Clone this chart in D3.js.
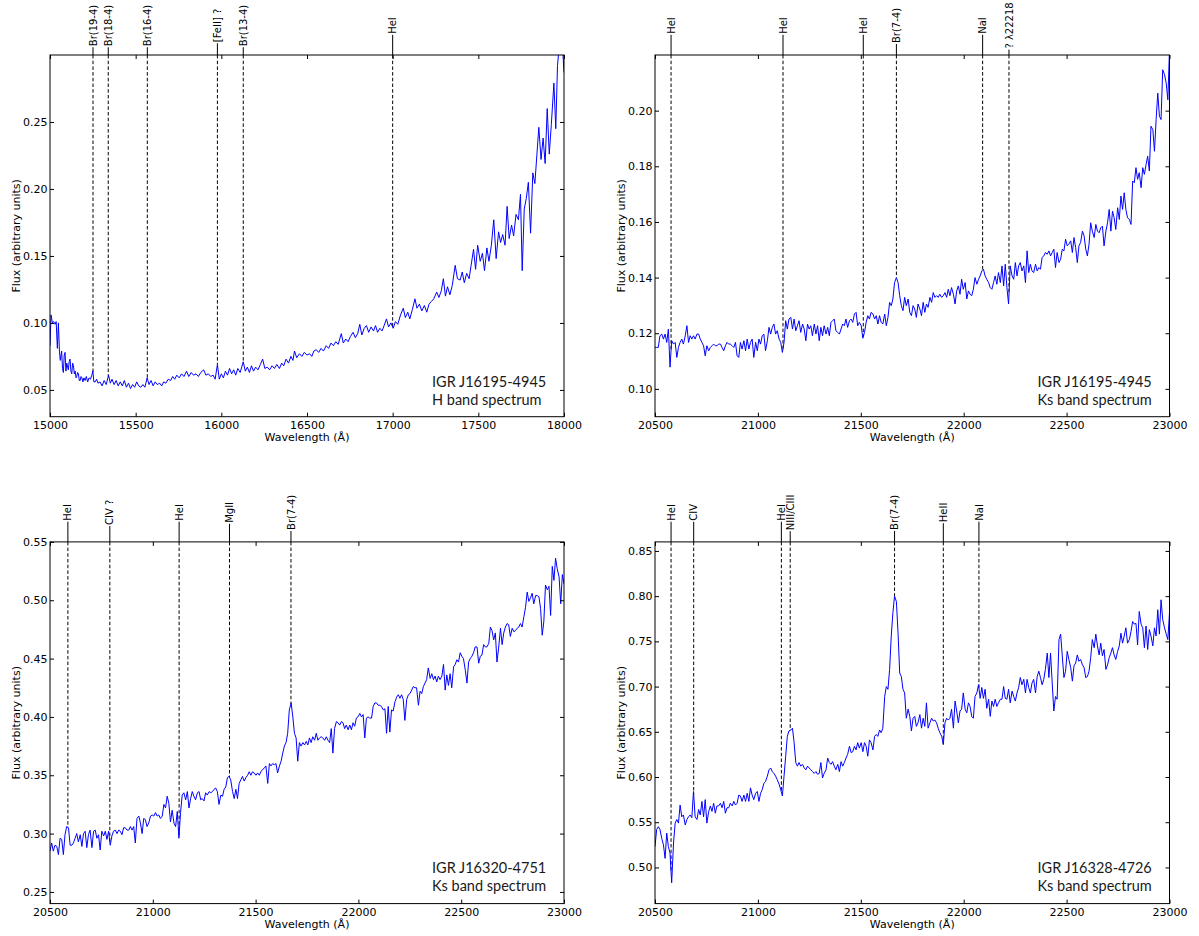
<!DOCTYPE html>
<html><head><meta charset="utf-8">
<script src="https://cdn.jsdelivr.net/npm/d3@7"></script>
<style>
body{margin:0;background:#fff;}
svg{display:block;}
</style></head><body>
<svg id="c" width="1199" height="936"></svg>
<script>
// ---------- DATA ----------
// H band spectrum of IGR J16195-4945: [wavelength (Å), flux]
const hBandJ16195 = [
[15000,0.083],[15006,0.106],[15014,0.100],[15022,0.101],[15030,0.099],[15036,0.101],[15043,0.081],[15049,0.100],[15055,0.079],[15060,0.072],
[15068,0.079],[15073,0.066],[15078,0.063],[15083,0.076],[15088,0.078],[15093,0.064],[15098,0.070],[15103,0.067],[15107,0.065],[15112,0.071],
[15117,0.073],[15122,0.064],[15127,0.062],[15132,0.070],[15137,0.068],[15142,0.062],[15147,0.064],[15152,0.059],[15156,0.060],[15161,0.063],
[15166,0.062],[15171,0.057],[15176,0.057],[15181,0.060],[15186,0.059],[15192,0.056],[15198,0.059],[15205,0.057],[15212,0.060],[15220,0.056],
[15228,0.059],[15236,0.058],[15244,0.061],[15250,0.064],[15256,0.056],[15264,0.056],[15272,0.058],[15280,0.055],[15292,0.056],[15304,0.053],
[15316,0.057],[15328,0.054],[15342,0.061],[15352,0.055],[15362,0.058],[15374,0.054],[15386,0.057],[15398,0.053],[15410,0.056],[15422,0.053],
[15434,0.057],[15446,0.052],[15458,0.055],[15470,0.051],[15482,0.054],[15494,0.052],[15506,0.056],[15518,0.053],[15530,0.052],[15542,0.054],
[15554,0.052],[15567,0.059],[15578,0.054],[15590,0.057],[15602,0.053],[15614,0.056],[15626,0.054],[15640,0.055],[15652,0.053],[15664,0.056],
[15676,0.055],[15690,0.058],[15704,0.057],[15716,0.060],[15728,0.058],[15740,0.061],[15754,0.059],[15768,0.062],[15782,0.060],[15797,0.064],
[15810,0.060],[15824,0.063],[15838,0.061],[15852,0.062],[15866,0.060],[15880,0.063],[15897,0.065],[15910,0.061],[15924,0.062],[15938,0.060],
[15952,0.061],[15964,0.058],[15977,0.069],[15988,0.058],[16000,0.062],[16012,0.059],[16024,0.064],[16036,0.061],[16048,0.066],[16060,0.062],
[16072,0.065],[16084,0.061],[16096,0.066],[16110,0.063],[16128,0.071],[16140,0.064],[16152,0.067],[16164,0.063],[16176,0.068],[16188,0.064],
[16200,0.067],[16214,0.065],[16228,0.069],[16241,0.073],[16254,0.066],[16268,0.067],[16282,0.065],[16296,0.068],[16310,0.066],[16324,0.069],
[16339,0.066],[16352,0.070],[16364,0.068],[16378,0.073],[16392,0.070],[16406,0.075],[16418,0.072],[16427,0.079],[16440,0.074],[16456,0.077],
[16470,0.075],[16484,0.078],[16500,0.076],[16515,0.077],[16528,0.075],[16540,0.079],[16554,0.080],[16568,0.078],[16582,0.081],[16596,0.079],
[16612,0.083],[16626,0.081],[16640,0.085],[16654,0.083],[16668,0.086],[16682,0.084],[16700,0.092],[16712,0.085],[16726,0.088],[16740,0.086],
[16754,0.090],[16769,0.093],[16782,0.089],[16796,0.092],[16808,0.099],[16820,0.091],[16834,0.096],[16847,0.098],[16860,0.093],[16874,0.097],
[16888,0.094],[16900,0.098],[16912,0.093],[16925,0.096],[16938,0.094],[16950,0.098],[16964,0.103],[16976,0.097],[16990,0.100],[17003,0.096],
[17016,0.101],[17030,0.099],[17046,0.106],[17062,0.111],[17074,0.104],[17088,0.108],[17100,0.103],[17115,0.110],[17130,0.118],[17142,0.111],
[17156,0.114],[17170,0.109],[17185,0.113],[17199,0.108],[17212,0.114],[17226,0.116],[17240,0.118],[17257,0.123],[17270,0.119],[17284,0.124],
[17296,0.133],[17308,0.120],[17320,0.127],[17334,0.121],[17348,0.128],[17365,0.143],[17378,0.133],[17394,0.132],[17406,0.138],[17418,0.130],
[17432,0.137],[17446,0.133],[17458,0.143],[17472,0.155],[17484,0.140],[17496,0.158],[17511,0.146],[17524,0.152],[17536,0.139],[17550,0.156],
[17562,0.146],[17576,0.158],[17590,0.177],[17604,0.148],[17618,0.168],[17630,0.160],[17642,0.166],[17656,0.158],[17668,0.187],[17680,0.163],
[17694,0.173],[17706,0.165],[17720,0.181],[17734,0.177],[17746,0.196],[17756,0.139],[17768,0.185],[17780,0.193],[17792,0.205],[17805,0.167],
[17818,0.212],[17830,0.204],[17842,0.226],[17853,0.246],[17866,0.222],[17878,0.238],[17890,0.219],[17902,0.260],[17914,0.226],[17926,0.248],
[17941,0.279],[17952,0.245],[17962,0.292],[17971,0.305],[17984,0.320],[17992,0.305],[18000,0.287]
];

// Ks band wavelength grid (Å), shared by the three Ks spectra
const ksWave = [
20500,20508,20516,20524,20533,20541,20549,20557,20565,20573,
20581,20590,20598,20606,20614,20622,20630,20638,20647,20655,
20663,20671,20679,20687,20695,20704,20712,20720,20728,20736,
20744,20752,20761,20769,20777,20785,20793,20801,20809,20818,
20826,20834,20842,20850,20858,20866,20875,20883,20891,20899,
20907,20915,20923,20932,20940,20948,20956,20964,20972,20980,
20989,20997,21005,21013,21021,21029,21037,21046,21054,21062,
21070,21078,21086,21094,21103,21111,21119,21127,21135,21143,
21151,21160,21168,21176,21184,21192,21200,21208,21217,21225,
21233,21241,21249,21257,21265,21274,21282,21290,21298,21306,
21314,21322,21331,21339,21347,21355,21363,21371,21379,21388,
21396,21404,21412,21420,21428,21436,21445,21453,21461,21469,
21477,21485,21493,21502,21510,21518,21526,21534,21542,21550,
21559,21567,21575,21583,21591,21599,21607,21616,21624,21632,
21640,21648,21656,21664,21673,21681,21689,21697,21705,21713,
21721,21730,21738,21746,21754,21762,21770,21778,21787,21795,
21803,21811,21819,21827,21836,21844,21852,21860,21868,21876,
21884,21893,21901,21909,21917,21925,21933,21941,21950,21958,
21966,21974,21982,21990,21998,22007,22015,22023,22031,22039,
22047,22055,22064,22072,22080,22088,22096,22104,22112,22121,
22129,22137,22145,22153,22161,22169,22178,22186,22194,22202,
22210,22218,22226,22235,22243,22251,22259,22267,22275,22283,
22292,22300,22308,22316,22324,22332,22340,22349,22357,22365,
22373,22381,22389,22397,22406,22414,22422,22430,22438,22446,
22454,22463,22471,22479,22487,22495,22503,22511,22520,22528,
22536,22544,22552,22560,22568,22577,22585,22593,22601,22609,
22617,22625,22634,22642,22650,22658,22666,22674,22682,22691,
22699,22707,22715,22723,22731,22739,22748,22756,22764,22772,
22780,22788,22796,22805,22813,22821,22829,22837,22845,22853,
22862,22870,22878,22886,22894,22902,22910,22919,22927,22935,
22943,22951,22959,22967,22976,22984,22992,23000
];

const ksFluxJ16195 = [
0.1149,0.1149,0.1149,0.1191,0.1197,0.1179,0.1197,0.1167,0.1215,0.1078,
0.1173,0.1161,0.1167,0.1113,0.1149,0.1167,0.1179,0.1161,0.1191,0.1227,
0.1167,0.1191,0.1179,0.1191,0.1179,0.1197,0.1197,0.1179,0.1167,0.1155,
0.1119,0.1155,0.1137,0.1149,0.1155,0.1161,0.1155,0.1155,0.1161,0.1161,
0.1149,0.1137,0.1155,0.1167,0.1161,0.1161,0.1155,0.1149,0.1167,0.1119,
0.1113,0.1167,0.1143,0.1173,0.1137,0.1179,0.1143,0.1167,0.1179,0.1113,
0.1167,0.1137,0.1179,0.1161,0.1191,0.1197,0.1137,0.1173,0.1221,0.1197,
0.1221,0.1233,0.1197,0.1209,0.1179,0.1167,0.1131,0.1167,0.1245,0.1215,
0.1251,0.1257,0.1215,0.1251,0.1209,0.1227,0.1245,0.1203,0.1233,0.1215,
0.1173,0.1233,0.1215,0.1227,0.1191,0.1233,0.1197,0.1227,0.1173,0.1221,
0.1191,0.1227,0.1197,0.1221,0.1191,0.1239,0.1245,0.1251,0.1209,0.1203,
0.1197,0.1215,0.1233,0.1227,0.1251,0.1221,0.1245,0.1251,0.1239,0.1269,
0.1275,0.1227,0.1239,0.1227,0.1182,0.1203,0.1239,0.1263,0.1251,0.1275,
0.1269,0.1251,0.1263,0.1233,0.1263,0.1239,0.1233,0.1269,0.1227,0.1257,
0.1311,0.1299,0.1323,0.1382,0.1400,0.1382,0.1335,0.1299,0.1281,0.1329,
0.1299,0.1323,0.1275,0.1263,0.1299,0.1287,0.1257,0.1305,0.1287,0.1263,
0.1311,0.1275,0.1305,0.1293,0.1329,0.1311,0.1346,0.1329,0.1335,0.1329,
0.1340,0.1329,0.1335,0.1346,0.1329,0.1358,0.1335,0.1364,0.1340,0.1305,
0.1352,0.1370,0.1340,0.1394,0.1358,0.1382,0.1323,0.1352,0.1340,0.1335,
0.1358,0.1400,0.1376,0.1394,0.1406,0.1424,0.1430,0.1406,0.1394,0.1382,
0.1364,0.1358,0.1382,0.1406,0.1376,0.1418,0.1382,0.1442,0.1370,0.1448,
0.1364,0.1305,0.1442,0.1406,0.1394,0.1454,0.1406,0.1442,0.1454,0.1424,
0.1442,0.1382,0.1496,0.1418,0.1448,0.1424,0.1418,0.1448,0.1424,0.1436,
0.1430,0.1472,0.1478,0.1490,0.1484,0.1496,0.1478,0.1490,0.1502,0.1436,
0.1490,0.1454,0.1466,0.1502,0.1496,0.1538,0.1514,0.1520,0.1532,0.1490,
0.1544,0.1508,0.1454,0.1514,0.1526,0.1567,0.1550,0.1502,0.1478,0.1520,
0.1597,0.1567,0.1544,0.1591,0.1567,0.1561,0.1579,0.1585,0.1514,0.1567,
0.1597,0.1645,0.1567,0.1639,0.1615,0.1573,0.1651,0.1609,0.1693,0.1645,
0.1705,0.1645,0.1615,0.1609,0.1591,0.1747,0.1741,0.1795,0.1753,0.1777,
0.1723,0.1795,0.1771,0.1806,0.1836,0.1783,0.1944,0.1932,0.1854,0.1968,
0.2063,0.1980,0.1968,0.2147,0.2129,0.2099,0.2039,0.2220
];

const ksFluxJ16320 = [
0.285,0.292,0.285,0.290,0.289,0.282,0.296,0.295,0.282,0.299,
0.306,0.305,0.290,0.290,0.292,0.296,0.300,0.293,0.299,0.289,
0.300,0.302,0.288,0.299,0.303,0.288,0.302,0.303,0.296,0.299,
0.286,0.302,0.298,0.302,0.295,0.302,0.290,0.298,0.302,0.303,
0.300,0.303,0.302,0.299,0.305,0.305,0.303,0.303,0.306,0.303,
0.306,0.292,0.313,0.315,0.309,0.300,0.313,0.312,0.306,0.309,
0.315,0.316,0.315,0.318,0.315,0.316,0.313,0.315,0.325,0.322,
0.332,0.326,0.310,0.320,0.309,0.306,0.319,0.296,0.318,0.333,
0.335,0.329,0.336,0.322,0.330,0.336,0.332,0.329,0.335,0.336,
0.329,0.330,0.328,0.335,0.333,0.336,0.335,0.336,0.338,0.339,
0.336,0.325,0.333,0.332,0.338,0.340,0.348,0.349,0.346,0.336,
0.330,0.338,0.330,0.343,0.346,0.349,0.345,0.348,0.350,0.353,
0.350,0.353,0.352,0.350,0.352,0.350,0.353,0.355,0.356,0.358,
0.343,0.360,0.358,0.360,0.359,0.360,0.352,0.358,0.362,0.369,
0.375,0.378,0.386,0.406,0.412,0.400,0.386,0.382,0.362,0.378,
0.375,0.378,0.376,0.379,0.376,0.382,0.378,0.383,0.380,0.386,
0.380,0.382,0.383,0.382,0.380,0.383,0.380,0.378,0.390,0.369,
0.390,0.396,0.395,0.393,0.396,0.395,0.390,0.393,0.389,0.393,
0.389,0.395,0.392,0.399,0.400,0.403,0.400,0.402,0.382,0.399,
0.400,0.399,0.399,0.409,0.412,0.412,0.410,0.410,0.409,0.406,
0.407,0.386,0.409,0.387,0.406,0.405,0.413,0.417,0.419,0.416,
0.419,0.415,0.397,0.415,0.419,0.420,0.423,0.426,0.425,0.425,
0.410,0.422,0.420,0.426,0.429,0.432,0.442,0.433,0.437,0.432,
0.435,0.430,0.435,0.432,0.435,0.445,0.423,0.436,0.427,0.437,
0.425,0.443,0.445,0.449,0.447,0.455,0.452,0.450,0.440,0.429,
0.447,0.450,0.452,0.455,0.460,0.460,0.446,0.452,0.453,0.462,
0.460,0.460,0.463,0.477,0.474,0.466,0.472,0.447,0.459,0.476,
0.462,0.472,0.477,0.480,0.479,0.469,0.476,0.473,0.474,0.476,
0.477,0.480,0.477,0.486,0.494,0.507,0.499,0.502,0.506,0.497,
0.504,0.504,0.503,0.493,0.470,0.482,0.513,0.509,0.512,0.487,
0.529,0.517,0.536,0.527,0.520,0.497,0.522,0.514
];

const ksFluxJ16328 = [
0.523,0.542,0.545,0.542,0.532,0.525,0.510,0.538,0.523,0.516,
0.483,0.527,0.549,0.553,0.549,0.569,0.556,0.558,0.547,0.553,
0.556,0.558,0.555,0.584,0.556,0.553,0.564,0.558,0.573,0.556,
0.575,0.549,0.562,0.568,0.562,0.571,0.560,0.568,0.568,0.571,
0.566,0.573,0.560,0.566,0.566,0.571,0.568,0.573,0.569,0.571,
0.580,0.579,0.573,0.580,0.573,0.582,0.573,0.588,0.580,0.575,
0.582,0.584,0.573,0.582,0.586,0.593,0.595,0.601,0.608,0.610,
0.606,0.604,0.601,0.597,0.592,0.586,0.579,0.601,0.623,0.645,
0.651,0.652,0.654,0.638,0.616,0.612,0.616,0.612,0.614,0.610,
0.608,0.612,0.610,0.608,0.606,0.604,0.606,0.603,0.604,0.616,
0.599,0.604,0.608,0.621,0.616,0.614,0.617,0.612,0.608,0.614,
0.606,0.617,0.612,0.616,0.621,0.625,0.634,0.627,0.628,0.634,
0.630,0.638,0.632,0.638,0.628,0.638,0.634,0.623,0.641,0.638,
0.630,0.645,0.647,0.645,0.652,0.649,0.654,0.689,0.700,0.697,
0.719,0.756,0.782,0.800,0.794,0.759,0.715,0.711,0.697,0.693,
0.665,0.675,0.667,0.651,0.665,0.667,0.656,0.660,0.669,0.654,
0.665,0.656,0.682,0.654,0.660,0.665,0.662,0.663,0.660,0.654,
0.649,0.645,0.636,0.660,0.665,0.663,0.665,0.675,0.654,0.684,
0.673,0.660,0.673,0.675,0.693,0.675,0.671,0.682,0.678,0.667,
0.665,0.689,0.693,0.702,0.687,0.699,0.687,0.697,0.676,0.686,
0.667,0.684,0.678,0.686,0.678,0.682,0.686,0.686,0.700,0.687,
0.686,0.697,0.682,0.695,0.689,0.684,0.693,0.699,0.710,0.702,
0.708,0.693,0.708,0.699,0.693,0.704,0.708,0.693,0.711,0.717,
0.710,0.702,0.708,0.719,0.737,0.710,0.737,0.704,0.673,0.689,
0.686,0.752,0.758,0.734,0.710,0.717,0.739,0.730,0.721,0.706,
0.723,0.726,0.735,0.728,0.730,0.724,0.721,0.710,0.711,0.717,
0.732,0.752,0.743,0.758,0.745,0.735,0.748,0.734,0.741,0.719,
0.724,0.732,0.737,0.743,0.735,0.730,0.739,0.745,0.759,0.748,
0.756,0.765,0.748,0.752,0.761,0.772,0.769,0.770,0.746,0.783,
0.769,0.765,0.743,0.767,0.741,0.763,0.756,0.745,0.765,0.756,
0.785,0.758,0.796,0.774,0.765,0.758,0.752,0.782
];

// Line identifications: [label, wavelength Å]
const linesP1 = [["Br(19-4)",15251],["Br(18-4)",15340],["Br(16-4)",15568],["[FeII] ?",15977],["Br(13-4)",16128],["HeI",17000]];
const linesP2 = [["HeI",20578],["HeI",21122],["HeI",21512],["Br(7-4)",21673],["NaI",22092],["? \u03bb22218",22220]];
const linesP3 = [["HeI",20587],["CIV ?",20791],["HeI",21128],["MgII",21373],["Br(7-4)",21672]];
const linesP4 = [["HeI",20578],["CIV",20688],["HeI",21114],["NIII/CIII",21157],["Br(7-4)",21664],["HeII",21901],["NaI",22074]];

// Axis ranges and ticks
const xDomainH = [15000, 18000];
const xDomainK = [20500, 23000];
const xTicksH = [15000,15500,16000,16500,17000,17500,18000];
const xTicksK = [20500,21000,21500,22000,22500,23000];
const yDomain1 = [0.03, 0.30], yTicks1 = [0.05,0.10,0.15,0.20,0.25];
const yDomain2 = [0.09, 0.22], yTicks2 = [0.10,0.12,0.14,0.16,0.18,0.20];
const yDomain3 = [0.24, 0.55], yTicks3 = [0.25,0.30,0.35,0.40,0.45,0.50,0.55];
const yDomain4 = [0.46, 0.86], yTicks4 = [0.50,0.55,0.60,0.65,0.70,0.75,0.80,0.85];

const titles1 = ["IGR J16195-4945","H band spectrum"];
const titles2 = ["IGR J16195-4945","Ks band spectrum"];
const titles3 = ["IGR J16320-4751","Ks band spectrum"];
const titles4 = ["IGR J16328-4726","Ks band spectrum"];

const xLabel = "Wavelength (\u00c5)";
const yLabel = "Flux (arbitrary units)";

// ---------- DRAW ----------
const svg = d3.select("#c");
const FONT = "DejaVu Sans, Bitstream Vera Sans, sans-serif";

const zip = (w, f) => { const n = Math.min(w.length, f.length); const o = []; for (let i = 0; i < n; i++) o.push([w[i], f[i]]); return o; };

const panels = [
  {id:1, box:{x0:50, x1:564, y0:55, y1:416.7}, pts:hBandJ16195, xd:xDomainH, xt:xTicksH, yd:yDomain1, yt:yTicks1, lines:linesP1, titles:titles1},
  {id:2, box:{x0:655, x1:1169.5, y0:55, y1:416.7}, pts:zip(ksWave, ksFluxJ16195), xd:xDomainK, xt:xTicksK, yd:yDomain2, yt:yTicks2, lines:linesP2, titles:titles2},
  {id:3, box:{x0:50, x1:564, y0:541.9, y1:903.6}, pts:zip(ksWave, ksFluxJ16320), xd:xDomainK, xt:xTicksK, yd:yDomain3, yt:yTicks3, lines:linesP3, titles:titles3},
  {id:4, box:{x0:655, x1:1169.5, y0:541.9, y1:903.6}, pts:zip(ksWave, ksFluxJ16328), xd:xDomainK, xt:xTicksK, yd:yDomain4, yt:yTicks4, lines:linesP4, titles:titles4}
];

function interp(pts, w) {
  const i = d3.bisector(d => d[0]).left(pts, w);
  if (i <= 0) return pts[0][1];
  if (i >= pts.length) return pts[pts.length - 1][1];
  const a = pts[i - 1], b = pts[i];
  return a[1] + (b[1] - a[1]) * (w - a[0]) / (b[0] - a[0]);
}

const defs = svg.append("defs");

panels.forEach(p => {
  const B = p.box;
  const x = d3.scaleLinear().domain(p.xd).range([B.x0, B.x1]);
  const y = d3.scaleLinear().domain(p.yd).range([B.y1, B.y0]);
  const g = svg.append("g");

  defs.append("clipPath").attr("id", "clip" + p.id)
    .append("rect").attr("x", B.x0).attr("y", B.y0).attr("width", B.x1 - B.x0).attr("height", B.y1 - B.y0);

  // identification lines (dashed inside, solid above axis)
  p.lines.forEach(([lab, w]) => {
    const lx = x(w);
    const fy = y(interp(p.pts, w));
    g.append("line").attr("x1", lx).attr("x2", lx).attr("y1", B.y0).attr("y2", fy)
      .attr("stroke", "#000").attr("stroke-width", 1).attr("stroke-dasharray", "3.5,2.2");
    const cy = B.y0 - 29.5;
    const t = g.append("text").text(lab)
      .attr("transform", `translate(${lx},${cy}) rotate(-90)`)
      .attr("text-anchor", "middle").attr("dy", "0.36em")
      .attr("font-family", FONT).attr("font-size", 10).attr("fill", "#000");
    const len = t.node().getComputedTextLength();
    g.append("line").attr("x1", lx).attr("x2", lx).attr("y1", B.y0).attr("y2", cy + len / 2 + 1)
      .attr("stroke", "#000").attr("stroke-width", 1);
  });

  // spectrum
  g.append("path").datum(p.pts)
    .attr("clip-path", `url(#clip${p.id})`)
    .attr("d", d3.line().x(d => x(d[0])).y(d => y(d[1])))
    .attr("fill", "none").attr("stroke", "#0000ff").attr("stroke-width", 1).attr("stroke-linejoin", "round");

  // axes
  const fmtY = d3.format(".2f");
  const ax = g.append("g").attr("transform", `translate(0,${B.y1})`)
    .call(d3.axisBottom(x).tickValues(p.xt).tickSizeInner(-4).tickSizeOuter(0).tickPadding(4.8).tickFormat(d3.format("d")));
  const axT = g.append("g").attr("transform", `translate(0,${B.y0})`)
    .call(d3.axisTop(x).tickValues(p.xt).tickSizeInner(-4).tickSizeOuter(0).tickFormat(""));
  const ay = g.append("g").attr("transform", `translate(${B.x0},0)`)
    .call(d3.axisLeft(y).tickValues(p.yt).tickSizeInner(-4).tickSizeOuter(0).tickPadding(2.5).tickFormat(fmtY));
  const ayR = g.append("g").attr("transform", `translate(${B.x1},0)`)
    .call(d3.axisRight(y).tickValues(p.yt).tickSizeInner(-4).tickSizeOuter(0).tickFormat(""));
  [ax, axT, ay, ayR].forEach(a => {
    a.select(".domain").remove();
    a.attr("font-family", FONT).attr("font-size", 11);
    a.selectAll("line").attr("stroke", "#000");
    a.selectAll("text").attr("fill", "#000");
  });

  // frame
  g.append("rect").attr("x", B.x0).attr("y", B.y0).attr("width", B.x1 - B.x0).attr("height", B.y1 - B.y0)
    .attr("fill", "none").attr("stroke", "#000").attr("stroke-width", 1);

  // axis labels
  g.append("text").text(xLabel).attr("x", (B.x0 + B.x1) / 2).attr("y", B.y1 + 24)
    .attr("text-anchor", "middle").attr("font-family", FONT).attr("font-size", 11).attr("fill", "#000");
  g.append("text").text(yLabel)
    .attr("transform", `translate(${B.x0 - 30},${(B.y0 + B.y1) / 2}) rotate(-90)`)
    .attr("text-anchor", "middle").attr("font-family", FONT).attr("font-size", 11).attr("fill", "#000");

  // panel annotation
  p.titles.forEach((s, i) => {
    g.append("text").text(s).attr("x", B.x1 - 132).attr("y", B.y1 - 30.2 + i * 18)
      .attr("font-family", "Lato, Carlito, 'Open Sans', sans-serif").attr("font-size", 14.5).attr("fill", "#1a1a1a");
  });
});
</script>
</body></html>
